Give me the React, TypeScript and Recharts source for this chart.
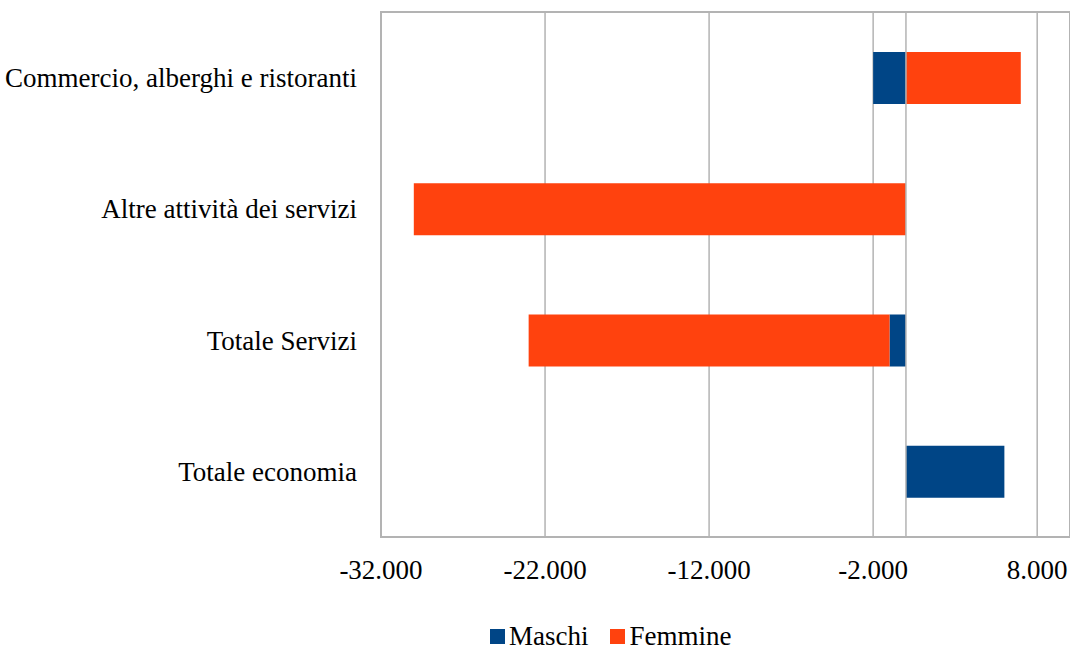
import { BarChart, Bar, XAxis, YAxis, CartesianGrid, ReferenceLine, ReferenceArea } from 'recharts';

const categories = [
  'Commercio, alberghi e ristoranti',
  'Altre attività dei servizi',
  'Totale Servizi',
  'Totale economia',
];
const maschi = [-2000, 0, -1000, 6000];
const femmine = [7000, -30000, -22000, 0];
const xTicks = [-32000, -22000, -12000, -2000, 8000];

const series = [
  { key: 'maschi', name: 'Maschi', color: '#004586' },
  { key: 'femmine', name: 'Femmine', color: '#ff420e' },
];

const gridColor = '#b3b3b3';
const font = '"Liberation Serif", "Times New Roman", serif';

// 12000 -> "12.000"
const fmt = (v: number) => {
  const s = Math.abs(v).toString().replace(/\B(?=(\d{3})+(?!\d))/g, '.');
  return v < 0 ? `-${s}` : s;
};

export default function App() {
  const data = categories.map((name, i) => ({
    name,
    maschi: maschi[i],
    femmine: femmine[i],
  }));

  return (
    <div style={{ position: 'absolute', left: 0, top: 0, width: 1070, height: 652, background: '#fff', fontFamily: font }}>
      <BarChart
        width={1070}
        height={652}
        data={data}
        layout="vertical"
        stackOffset="sign"
        margin={{ top: 12, right: 0, bottom: 55, left: 0 }}
      >
        <CartesianGrid horizontal={false} stroke={gridColor} strokeWidth={1.5} />
        <XAxis
          type="number"
          domain={[-32000, 10000]}
          ticks={xTicks}
          allowDataOverflow
          tickFormatter={fmt}
          tickLine={false}
          axisLine={false}
          tickSize={0}
          tickMargin={23}
          height={60}
          tick={{ fill: '#000', fontSize: 27, fontFamily: font }}
        />
        <YAxis
          type="category"
          dataKey="name"
          width={381}
          tickLine={false}
          axisLine={false}
          tickSize={0}
          tickMargin={24}
          tick={{ fill: '#000', fontSize: 27, fontFamily: font }}
        />
        <ReferenceLine x={0} stroke={gridColor} strokeWidth={1.5} />
        <ReferenceArea x1={-32000} x2={10000} fill="none" stroke={gridColor} strokeWidth={2} ifOverflow="visible" />
        {series.map((s) => (
          <Bar
            key={s.key}
            dataKey={s.key}
            name={s.name}
            stackId="a"
            fill={s.color}
            barSize={52}
            isAnimationActive={false}
          />
        ))}
      </BarChart>
      <div style={{ position: 'absolute', left: 490, top: 621, display: 'flex', alignItems: 'center', fontSize: 27, color: '#000' }}>
        {series.map((s, i) => (
          <div key={s.key} style={{ display: 'flex', alignItems: 'center', marginLeft: i ? 22 : 0 }}>
            <span style={{ width: 15, height: 15, background: s.color, display: 'inline-block', marginRight: 4 }} />
            <span>{s.name}</span>
          </div>
        ))}
      </div>
    </div>
  );
}
